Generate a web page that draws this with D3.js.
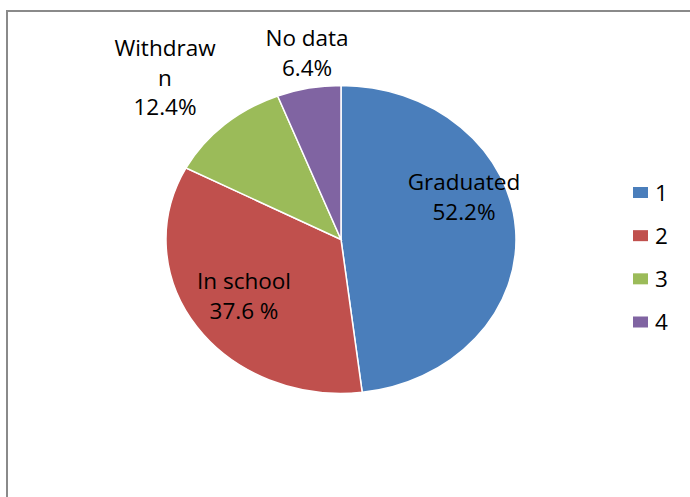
<!DOCTYPE html>
<html>
<head>
<meta charset="utf-8">
<script src="https://cdn.jsdelivr.net/npm/d3@7"></script>
<style>
  body { margin: 0; background: #fff; }
  text { font-family: "Open Sans", sans-serif; fill: #000; }
</style>
</head>
<body>
<script>
// chart data
const categories = ["Graduated", "In school", "Withdrawn", "No data"];
const values = [52.2, 37.6, 12.4, 6.4];
const valueLabels = ["52.2%", "37.6 %", "12.4%", "6.4%"];
const labelLines = [["Graduated"], ["In school"], ["Withdraw", "n"], ["No data"]];
const legendKeys = ["1", "2", "3", "4"];
const colors = ["#4a7ebb", "#c0504d", "#9bbb59", "#8064a2"];

const width = 690, height = 497;
const cx = 341, cy = 239.5, rx = 175, ry = 154;

const svg = d3.select("body").append("svg")
  .attr("width", width)
  .attr("height", height);

// chart frame, runs off the right and bottom edges
svg.append("rect")
  .attr("x", 7).attr("y", 11)
  .attr("width", 720).attr("height", 520)
  .attr("fill", "none")
  .attr("stroke", "#8a8a8a")
  .attr("stroke-width", 2);

const pie = d3.pie().sort(null).value(d => d);
const arcs = pie(values);
const arc = d3.arc().innerRadius(0).outerRadius(rx);

// the pie is stretched wider than tall
const g = svg.append("g")
  .attr("transform", "translate(" + cx + "," + cy + ") scale(1," + (ry / rx) + ")");

g.selectAll("path")
  .data(arcs)
  .enter().append("path")
  .attr("d", arc)
  .attr("fill", (d, i) => colors[i])
  .attr("stroke", "#fff")
  .attr("stroke-width", 1.5)
  .attr("vector-effect", "non-scaling-stroke");

// label anchor positions (x centre, first baseline)
const labelPos = [[464, 190], [244, 289], [165, 56], [307, 46]];
const lineH = 29.5;

categories.forEach((c, i) => {
  const lines = labelLines[i].concat([valueLabels[i]]);
  const t = svg.append("text")
    .attr("text-anchor", "middle")
    .style("font-size", "22.5px");
  lines.forEach((s, j) => {
    t.append("tspan")
      .attr("x", labelPos[i][0])
      .attr("y", labelPos[i][1] + j * lineH)
      .text(s);
  });
});

// legend
const legendY = d3.scalePoint().domain(legendKeys).range([192.5, 322]);
const legend = svg.append("g");
legendKeys.forEach((k, i) => {
  legend.append("rect")
    .attr("x", 633).attr("y", legendY(k) - 5.5)
    .attr("width", 15).attr("height", 11)
    .attr("fill", colors[i]);
  legend.append("text")
    .attr("x", 655).attr("y", legendY(k) + 8)
    .style("font-size", "22.5px")
    .text(k);
});
</script>
</body>
</html>
